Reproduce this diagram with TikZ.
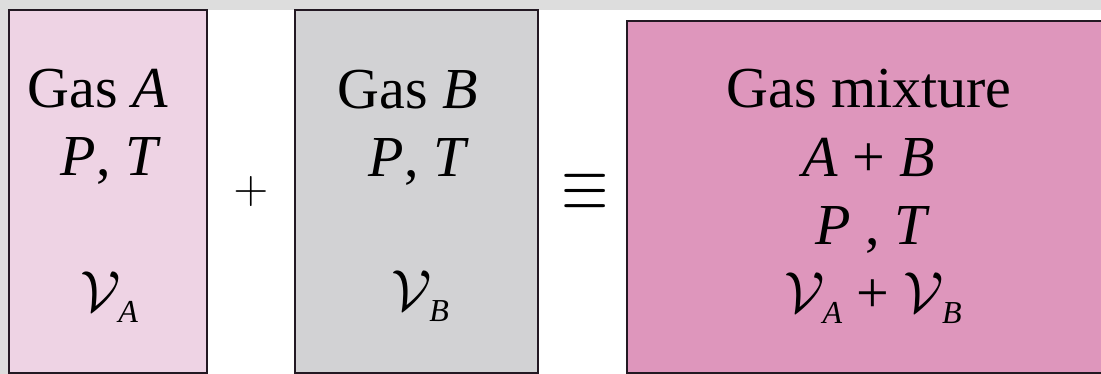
\RequirePackage{fix-cm}
\documentclass[tikz,border=0pt]{standalone}
\usepackage{fontspec}
\setmainfont{Liberation Serif}
\definecolor{backgray}{RGB}{221,221,221}
\definecolor{pinkA}{RGB}{238,211,228}
\definecolor{grayB}{RGB}{210,210,212}
\definecolor{pinkM}{RGB}{222,150,188}
\definecolor{edge}{RGB}{35,25,35}
\newcommand{\vol}[1]{$\mathcal{V}$\kern-2pt\raisebox{-11pt}{\fontsize{32}{32}\selectfont\textit{#1}}}
\tikzset{
  gasbox/.style={draw=edge,line width=2.5pt},
  lbl/.style={anchor=base,inner sep=0pt,font=\fontsize{58}{58}\selectfont},
}
\begin{document}
\begin{tikzpicture}[x=1pt,y=1pt]
   \useasboundingbox (0,0) rectangle (1101,374);
   \clip (0,0) rectangle (1101,374);
   %background
   \fill[backgray] (0,0) rectangle (1101,374);
   \fill[white] (8,0) rectangle (1101,364);
   %boxes
   \draw[gasbox,fill=pinkA] (9,1) rectangle (207,364);
   \draw[gasbox,fill=grayB] (295,1) rectangle (538,364);
   \draw[gasbox,fill=pinkM] (627,1) rectangle (1118,353);
   %gas A
   \node[lbl] (gasA) at (98,266) {Gas \textit{A}};
   \node[lbl] (ptA) at (111,198) {\textit{P}, \textit{T}};
   \node[lbl] (volA) at (109,62) {\vol{A}};
   %gas B
   \node[lbl] (gasB) at (408,265) {Gas \textit{B}};
   \node[lbl] (ptB) at (419,197) {\textit{P}, \textit{T}};
   \node[lbl] (volB) at (420,63) {\vol{B}};
   %mixture
   \node[lbl] (gasM) at (869,266) {Gas mixture};
   \node[lbl] (sumM) at (869,197) {\textit{A} + \textit{B}};
   \node[lbl] (ptM) at (873,129) {\textit{P} , \textit{T}};
   \node[lbl] (volM) at (873,61) {\vol{A} + \vol{B}};
   %operators
   \node[font=\fontsize{48}{48}\selectfont] (plus) at (251,182) {$+$};
   \node[font=\fontsize{78}{78}\selectfont] (equiv) at (585,182) {\scalebox{0.78}[1]{$\equiv$}};
\end{tikzpicture}
\end{document}
